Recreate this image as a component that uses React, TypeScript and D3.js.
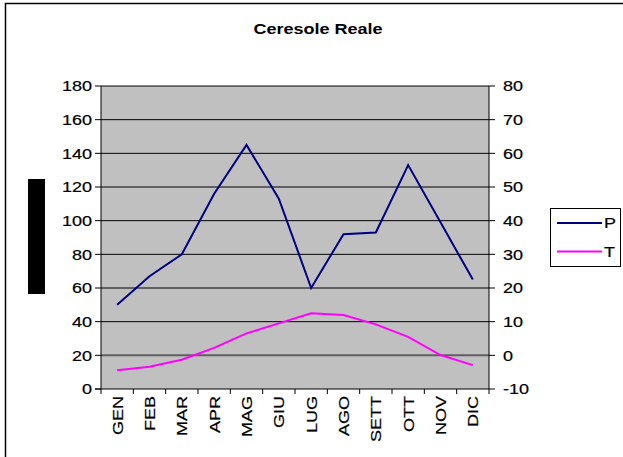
import React from "react";
import * as d3 from "d3";

const months = ["GEN", "FEB", "MAR", "APR", "MAG", "GIU", "LUG", "AGO", "SETT", "OTT", "NOV", "DIC"];
const precip = [50, 67, 80, 116, 145, 113, 60, 92, 93, 133, 99, 65];
const temp = [-4.4, -3.4, -1.3, 2.2, 6.5, 9.5, 12.5, 12, 9.2, 5.5, 0.1, -2.9];
const leftTicks = [0, 20, 40, 60, 80, 100, 120, 140, 160, 180];
const rightTicks = [-10, 0, 10, 20, 30, 40, 50, 60, 70, 80];
const legendItems = [
  { name: "P", color: "#000080" },
  { name: "T", color: "#FF00FF" },
];

const W = 623;
const H = 457;
const plot = { left: 101, right: 489, top: 86, bottom: 389 };
const FONT = "'Liberation Sans', Arial, sans-serif";
const SX = 1.2;

export default function App() {
  const x = d3.scaleBand<string>().domain(months).range([plot.left, plot.right]);
  const yL = d3.scaleLinear().domain([0, 180]).range([plot.bottom, plot.top]);
  const yR = d3.scaleLinear().domain([-10, 80]).range([plot.bottom, plot.top]);
  const cx = (m: string) => (x(m) as number) + x.bandwidth() / 2;

  const lineP = d3
    .line<number>()
    .x((_, i) => cx(months[i]))
    .y((d) => yL(d));
  const lineT = d3
    .line<number>()
    .x((_, i) => cx(months[i]))
    .y((d) => yR(d));

  const boundaries = months.map((m) => x(m) as number).concat([plot.right]);
  const tickText = { fontSize: 15, stroke: "#000", strokeWidth: 0.2 };

  return (
    <svg
      width={W}
      height={H}
      style={{ position: "absolute", left: 0, top: 0, display: "block", background: "#fff" }}
      fontFamily={FONT}
    >
      <rect x={0} y={0} width={W} height={H} fill="#fff" />
      {/* outer chart frame */}
      <path d={`M5.5,${H} V3.5 H${W}`} fill="none" stroke="#000" strokeWidth={1.5} />

      <text
        transform={`translate(318,34) scale(${SX},1)`}
        textAnchor="middle"
        fontSize={15}
        fontWeight="bold"
      >
        Ceresole Reale
      </text>

      {/* plot area */}
      <rect
        x={plot.left}
        y={plot.top}
        width={plot.right - plot.left}
        height={plot.bottom - plot.top}
        fill="#C0C0C0"
      />
      {leftTicks.slice(1).map((t) => (
        <line
          key={"g" + t}
          x1={plot.left}
          x2={plot.right}
          y1={yL(t)}
          y2={yL(t)}
          stroke={t === 20 ? "#606060" : "#000"}
          strokeWidth={t === 20 ? 2 : 1}
        />
      ))}

      {/* axes lines */}
      <line x1={plot.left} x2={plot.left} y1={plot.top} y2={plot.bottom} stroke="#000" />
      <line x1={plot.right} x2={plot.right} y1={plot.top} y2={plot.bottom} stroke="#000" />
      <line x1={plot.left - 6} x2={plot.right} y1={plot.bottom} y2={plot.bottom} stroke="#000" />

      {/* left axis */}
      {leftTicks.map((t) => (
        <g key={"l" + t}>
          <line x1={plot.left - 6} x2={plot.left} y1={yL(t)} y2={yL(t)} stroke="#000" />
          <text
            transform={`translate(92,${yL(t)}) scale(${SX},1)`}
            dy="0.36em"
            textAnchor="end"
            {...tickText}
          >
            {t}
          </text>
        </g>
      ))}

      {/* right axis */}
      {rightTicks.map((t) => (
        <g key={"r" + t}>
          <line x1={plot.right} x2={plot.right + 6} y1={yR(t)} y2={yR(t)} stroke="#000" />
          <text
            transform={`translate(503,${yR(t)}) scale(${SX},1)`}
            dy="0.36em"
            textAnchor="start"
            {...tickText}
          >
            {t}
          </text>
        </g>
      ))}

      {/* x axis ticks and labels */}
      {boundaries.map((b, i) => (
        <line key={"xt" + i} x1={b} x2={b} y1={plot.bottom} y2={plot.bottom + 5} stroke="#000" />
      ))}
      {months.map((m) => (
        <text
          key={"xl" + m}
          transform={`translate(${cx(m) + 5.5},396) rotate(-90) scale(${SX},1)`}
          textAnchor="end"
          {...tickText}
        >
          {m}
        </text>
      ))}

      {/* obscured left axis title */}
      <rect x={28} y={179} width={17} height={115} fill="#000" />

      {/* series */}
      <path d={lineT(temp) || ""} fill="none" stroke="#FF00FF" strokeWidth={2} />
      <path d={lineP(precip) || ""} fill="none" stroke="#000080" strokeWidth={2} />

      {/* legend */}
      <rect x={550.5} y={208.5} width={70} height={58} fill="#fff" stroke="#000" />
      {legendItems.map((it, i) => (
        <g key={it.name}>
          <line
            x1={557}
            x2={602}
            y1={223 + i * 28.5}
            y2={223 + i * 28.5}
            stroke={it.color}
            strokeWidth={2}
          />
          <text
            transform={`translate(604,${223 + i * 28.5}) scale(${SX},1)`}
            dy="0.36em"
            fontSize={15}
            stroke="#000"
            strokeWidth={0.2}
          >
            {it.name}
          </text>
        </g>
      ))}
    </svg>
  );
}
